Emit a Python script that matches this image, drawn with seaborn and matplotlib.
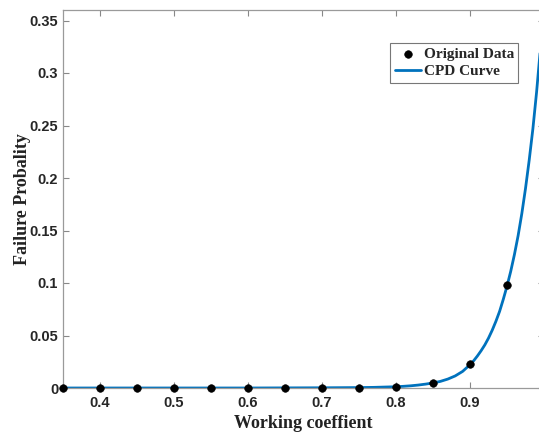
import numpy as np
import pandas as pd
import matplotlib
matplotlib.use("Agg")
import matplotlib.pyplot as plt
import seaborn as sns
from matplotlib.ticker import FuncFormatter

# Original data points
x_data = [0.35, 0.40, 0.45, 0.50, 0.55, 0.60, 0.65, 0.70, 0.75, 0.80, 0.85, 0.90, 0.95]
y_data = [0.0, 0.0, 0.0, 0.0, 0.0, 0.0, 0.0, 0.0, 0.0004, 0.0012, 0.0048, 0.0225, 0.0985]

# CPD curve, points
x_curve = [0.35, 0.40, 0.45, 0.50, 0.55, 0.60, 0.65, 0.70, 0.75, 0.76, 0.77, 0.78, 0.79,
           0.80, 0.81, 0.82, 0.83, 0.84, 0.85, 0.86, 0.87, 0.88, 0.89, 0.90, 0.905,
           0.91, 0.915, 0.92, 0.925, 0.93, 0.935, 0.94, 0.945, 0.95, 0.955, 0.96, 0.965,
           0.97, 0.975, 0.98, 0.985, 0.99, 0.995, 1.00]
y_curve = [0.0, 0.0, 0.0, 0.0, 0.0, 0.0, 0.0001, 0.0002, 0.0004, 0.0005, 0.0006, 0.0008, 0.001,
           0.0012, 0.0016, 0.0021, 0.0028, 0.0037, 0.0048, 0.0063, 0.0085, 0.0115, 0.0158, 0.0222, 0.026,
           0.0305, 0.0355, 0.041, 0.0475, 0.055, 0.0635, 0.073, 0.0845, 0.097, 0.111, 0.127, 0.145,
           0.166, 0.19, 0.217, 0.247, 0.282, 0.322, 0.368]

x_ticks = [0.4, 0.5, 0.6, 0.7, 0.8, 0.9]
y_ticks = [0, 0.05, 0.1, 0.15, 0.2, 0.25, 0.3, 0.35]

sns.set_theme(style="white")
plt.rcParams['font.family'] = ['Liberation Sans', 'DejaVu Sans']

fig = plt.figure(figsize=(5.39, 4.32), dpi=100)
ax = fig.add_axes([63/539, 44/432, 481/539, 378/432])

df_pts = pd.DataFrame({"x": x_data, "y": y_data})
df_cur = pd.DataFrame({"x": x_curve, "y": y_curve})

sns.lineplot(data=df_cur, x="x", y="y", ax=ax, color="#0072BD", linewidth=2.0,
             label="CPD Curve", zorder=2)
sns.scatterplot(data=df_pts, x="x", y="y", ax=ax, color="black", s=30, edgecolor="black",
                label="Original Data", zorder=3, clip_on=False)

ax.set_xlim(0.35, 1.0)
ax.set_ylim(0, 0.36)
ax.set_xticks(x_ticks)
ax.set_yticks(y_ticks)
fmt = FuncFormatter(lambda v, p: ("%g" % round(v, 4)))
ax.xaxis.set_major_formatter(fmt)
ax.yaxis.set_major_formatter(fmt)
ax.tick_params(direction="in", length=4, width=0.8, color="#888888",
               labelsize=10.5, labelcolor="#262626", top=True, right=True, bottom=True, left=True)
ax.tick_params(axis="x", pad=6)
for lab in ax.get_xticklabels() + ax.get_yticklabels():
    lab.set_fontweight("bold")
for s in ax.spines.values():
    s.set_color("#9a9a9a")
    s.set_linewidth(0.9)

ax.set_xlabel("Working coeffient", fontfamily="Liberation Serif", fontweight="bold",
              fontsize=13, color="#222222", labelpad=3)
ax.set_ylabel("Failure Probality", fontfamily="Liberation Serif", fontweight="bold",
              fontsize=13, color="#222222", labelpad=-1)

handles, labels = ax.get_legend_handles_labels()
order = [labels.index("Original Data"), labels.index("CPD Curve")]
leg = ax.legend([handles[i] for i in order], [labels[i] for i in order],
                loc="upper left", bbox_to_anchor=((390-63)/481, (388-43)/378),
                prop={"family": "Liberation Serif", "weight": "bold", "size": 11},
                frameon=True, fancybox=False, borderpad=0.3, handlelength=1.75,
                handletextpad=0.15, labelspacing=0.2, borderaxespad=0)
leg.get_frame().set_edgecolor("#555555")
leg.get_frame().set_linewidth(0.8)

fig.savefig("out.png", dpi=100)
